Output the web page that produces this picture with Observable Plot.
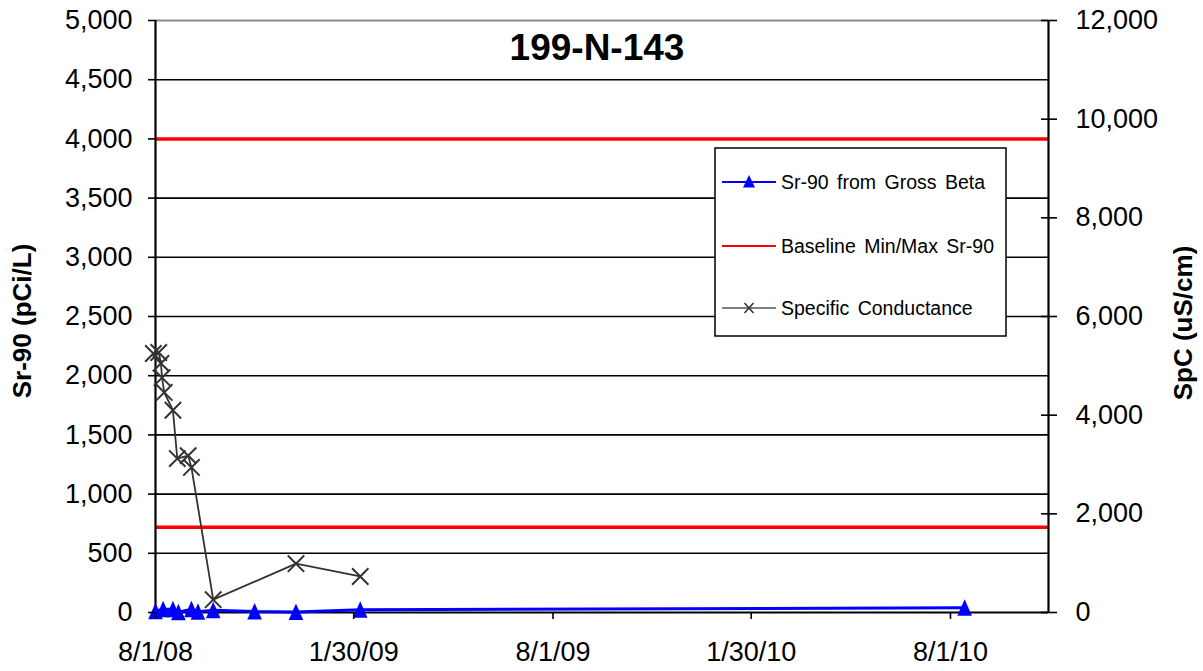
<!DOCTYPE html>
<html><head><meta charset="utf-8">
<script src="https://cdn.jsdelivr.net/npm/d3@7"></script>
<script src="https://cdn.jsdelivr.net/npm/@observablehq/plot@0.6"></script>
<style>
body{margin:0;background:#fff;}
#wrap{position:relative;width:1203px;height:671px;}
</style></head><body><div id="wrap"></div>
<script>
// ---- data ----
const chartTitle = "199-N-143";
const leftLabel = "Sr-90 (pCi/L)";
const rightLabel = "SpC (uS/cm)";
const xDomain = ["2008-08-01", "2010-10-30"];
const xTickDates = ["2008-08-01", "2009-01-30", "2009-08-01", "2010-01-30", "2010-08-01"];
const leftTicks = [0, 500, 1000, 1500, 2000, 2500, 3000, 3500, 4000, 4500, 5000];
const rightTicks = [0, 2000, 4000, 6000, 8000, 10000, 12000];
const leftMax = 5000;
const rightMax = 12000;
const baselineValues = [720, 4000];
const sr90Dates = ["2008-08-01", "2008-08-08", "2008-08-17", "2008-08-22", "2008-09-03", "2008-09-09", "2008-09-23", "2008-10-31", "2008-12-08", "2009-02-05", "2010-08-14"];
const sr90Values = [10, 27, 27, 3, 27, 7, 19, 8, 5, 24, 40];
const spcDates = ["2008-07-30", "2008-08-04", "2008-08-06", "2008-08-07", "2008-08-09", "2008-08-17", "2008-08-21", "2008-08-31", "2008-09-03", "2008-09-23", "2008-12-08", "2009-02-05"];
const spcValues = [5250, 5270, 5050, 4760, 4460, 4100, 3120, 3180, 2940, 260, 990, 730];
const legendLabels = ["Sr-90 from Gross Beta", "Baseline Min/Max Sr-90", "Specific Conductance"];

// ---- build ----
const parse = d3.utcParse("%Y-%m-%d");
const sr90 = sr90Dates.map((d, i) => ({date: parse(d), value: sr90Values[i]}));
const spc = spcDates.map((d, i) => ({date: parse(d), value: spcValues[i]}));
const toLeft = v => v * leftMax / rightMax;
const fmt = d3.format(",");
const FONT = "'Liberation Sans', Arial, sans-serif";

const tri = {
  draw(ctx) {
    ctx.moveTo(0, -8.5);
    ctx.lineTo(7.3, 8);
    ctx.lineTo(-7.3, 8);
    ctx.closePath();
  }
};

const plot = Plot.plot({
  width: 1203,
  height: 671,
  marginLeft: 155,
  marginRight: 155,
  marginTop: 20,
  marginBottom: 59,
  style: {fontFamily: FONT, fontSize: "27px", color: "#000", background: "#fff", overflow: "visible"},
  x: {type: "utc", domain: xDomain.map(parse)},
  y: {domain: [0, leftMax]},
  marks: [
    Plot.ruleY(leftTicks.filter(v => v > 0 && v < leftMax), {stroke: "#000", strokeWidth: 1.6}),
    Plot.ruleY([leftMax], {stroke: "#888", strokeWidth: 2}),
    Plot.ruleY(baselineValues, {stroke: "#ff0000", strokeWidth: 3.5}),
    Plot.ruleY([0], {stroke: "#000", strokeWidth: 2.2}),
    Plot.ruleX(xDomain.map(parse), {stroke: "#000", strokeWidth: 2.2}),
    Plot.line(spc, {x: "date", y: d => toLeft(d.value), stroke: "#333", strokeWidth: 1.8}),
    Plot.dot(spc, {x: "date", y: d => toLeft(d.value), symbol: "times", r: 7.5, stroke: "#333", strokeWidth: 2}),
    Plot.line(sr90, {x: "date", y: "value", stroke: "#0000ff", strokeWidth: 3}),
    Plot.dot(sr90, {x: "date", y: "value", symbol: tri, r: 6.5, fill: "#0000ff", stroke: "none"}),
    Plot.axisY(leftTicks, {anchor: "left", tickSize: 7, tickPadding: 16, tickFormat: fmt, label: null, strokeWidth: 1.6}),
    Plot.axisY(rightTicks.map(toLeft), {anchor: "right", tickSize: 16, dx: -8, tickPadding: 19, tickFormat: d => fmt(Math.round(d * rightMax / leftMax)), label: null, strokeWidth: 1.6}),
    Plot.axisX(xTickDates.map(parse), {anchor: "bottom", tickSize: 7, tickPadding: 22, tickFormat: d3.utcFormat("%-m/%-d/%y"), label: null, strokeWidth: 1.6})
  ]
});

document.getElementById("wrap").appendChild(plot);
const svg = d3.select(plot);

// title
svg.append("text").attr("x", 597).attr("y", 60).attr("text-anchor", "middle")
  .attr("font-family", FONT).attr("font-weight", "bold").attr("font-size", 37).attr("fill", "#000").text(chartTitle);
// axis titles
svg.append("text").attr("transform", "translate(31,321) rotate(-90)").attr("text-anchor", "middle")
  .attr("font-family", FONT).attr("font-weight", "bold").attr("font-size", 26).attr("fill", "#000").text(leftLabel);
svg.append("text").attr("transform", "translate(1192,323) rotate(-90)").attr("text-anchor", "middle")
  .attr("font-family", FONT).attr("font-weight", "bold").attr("font-size", 26).attr("fill", "#000").text(rightLabel);

// legend
const lg = svg.append("g").attr("transform", "translate(715,148)");
lg.append("rect").attr("width", 291).attr("height", 188).attr("fill", "#fff").attr("stroke", "#000").attr("stroke-width", 1.5);
const rows = [34, 98, 160];
const colors = ["#0000ff", "#ff0000", "#555"];
rows.forEach((y, i) => {
  lg.append("line").attr("x1", 7).attr("x2", 61).attr("y1", y).attr("y2", y).attr("stroke", colors[i]).attr("stroke-width", i === 2 ? 1.5 : 2);
  lg.append("text").attr("x", 66).attr("y", y).attr("dy", "0.36em").attr("text-anchor", "start").attr("font-family", FONT).attr("font-size", 19.5)
    .attr("word-spacing", 3).attr("fill", "#000").text(legendLabels[i]);
});
lg.append("path").attr("d", "M34,27 L40,39.5 L28,39.5 Z").attr("fill", "#0000ff");
lg.append("path").attr("d", "M29.5,155 L38.5,165 M38.5,155 L29.5,165").attr("stroke", "#333").attr("stroke-width", 1.6);
</script></body></html>
